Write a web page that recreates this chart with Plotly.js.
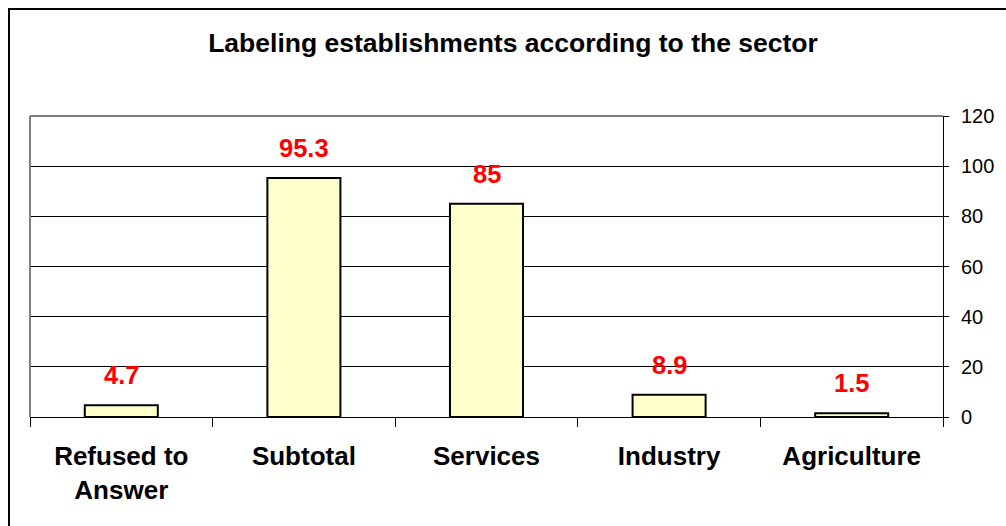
<!DOCTYPE html>
<html>
<head>
<meta charset="utf-8">
<script src="https://cdn.plot.ly/plotly-3.0.1.min.js"></script>
<style>
  html, body { margin: 0; padding: 0; background: #fff; }
  #chart { width: 1006px; height: 526px; }
</style>
</head>
<body>
<div id="chart"></div>
<script>
const categories = ["Refused to<br>Answer", "Subtotal", "Services", "Industry", "Agriculture"];
const values = [4.7, 95.3, 85, 8.9, 1.5];
const labels = ["4.7", "95.3", "85", "8.9", "1.5"];
const yTicks = [0, 20, 40, 60, 80, 100, 120];

const FONT = "Liberation Sans, Arial, Helvetica, sans-serif";

const trace = {
  type: "bar",
  x: categories,
  y: values,
  width: 0.4,
  marker: { color: "#FFFFCC", line: { color: "#000000", width: 2 } },
  hoverinfo: "skip"
};

const annotations = categories.map((c, i) => ({
  x: c, y: values[i], xref: "x", yref: "y",
  text: labels[i], showarrow: false,
  yanchor: "bottom", yshift: 14,
  font: { family: FONT, size: 25.5, color: "#FF0000", weight: "bold" }
}));

const plotL = 30, plotR = 943, plotT = 116, plotB = 417;
const pw = plotR - plotL, ph = plotB - plotT;

const layout = {
  width: 1006, height: 526,
  margin: { l: plotL, r: 1006 - plotR, t: plotT, b: 526 - plotB, pad: 0 },
  paper_bgcolor: "#ffffff",
  plot_bgcolor: "#ffffff",
  showlegend: false,
  title: {
    text: "<b>Labeling establishments according to the sector</b>",
    font: { family: FONT, size: 26.5, color: "#000000" },
    xref: "paper", x: (513 - plotL) / pw, xanchor: "center",
    yref: "container", y: 1 - 43 / 526, yanchor: "middle"
  },
  xaxis: {
    type: "category",
    tickson: "boundaries",
    ticks: "outside", ticklen: 9, tickwidth: 1, tickcolor: "#000000",
    showline: true, linecolor: "#000000", linewidth: 1,
    showgrid: false, zeroline: false,
    tickfont: { family: FONT, size: 26, color: "#000000", weight: "bold" },
    ticklabelstandoff: 16,
    fixedrange: true
  },
  yaxis: {
    side: "right",
    range: [0, 120],
    tickvals: yTicks,
    ticktext: yTicks.map(String),
    ticks: "outside", ticklen: 5, tickwidth: 1, tickcolor: "#000000",
    showline: true, linecolor: "#000000", linewidth: 1,
    showgrid: true, gridcolor: "#000000", gridwidth: 1,
    zeroline: false,
    tickfont: { family: FONT, size: 20, color: "#000000" },
    ticklabelstandoff: 8,
    fixedrange: true
  },
  annotations: annotations,
  shapes: [
    { type: "line", xref: "paper", yref: "paper", x0: 0, x1: 0, y0: 0, y1: 1,
      line: { color: "#808080", width: 2 } },
    { type: "line", xref: "paper", yref: "paper", x0: 0, x1: 1, y0: 1, y1: 1,
      line: { color: "#808080", width: 2 } },
    { type: "rect", xref: "paper", yref: "paper",
      x0: (9 - plotL) / pw, x1: 1.2, y0: -1, y1: (plotB - 9) / ph,
      line: { color: "#000000", width: 2 }, fillcolor: "rgba(0,0,0,0)" }
  ]
};

Plotly.newPlot("chart", [trace], layout, { displayModeBar: false, staticPlot: true });
</script>
</body>
</html>
